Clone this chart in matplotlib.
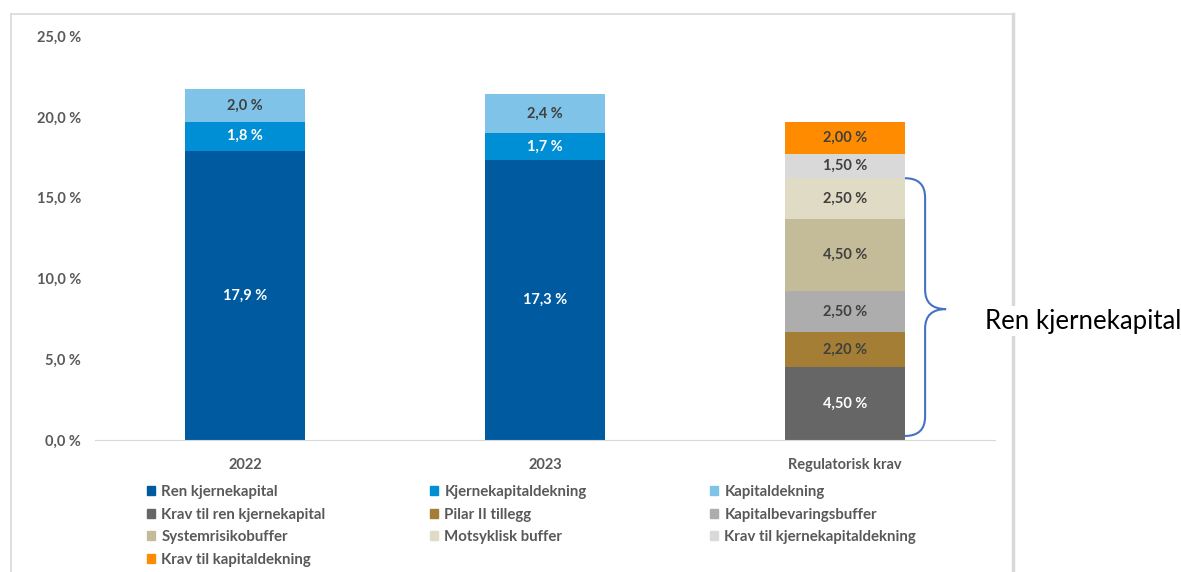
import matplotlib
matplotlib.use("Agg")
import matplotlib.pyplot as plt
from matplotlib.path import Path
from matplotlib.patches import PathPatch, Patch
from matplotlib.lines import Line2D
import numpy as np

# ---- data ----
categories = ["2022", "2023", "Regulatorisk krav"]

series_names = ["Ren kjernekapital", "Kjernekapitaldekning", "Kapitaldekning",
                "Krav til ren kjernekapital", "Pilar II tillegg", "Kapitalbevaringsbuffer",
                "Systemrisikobuffer", "Motsyklisk buffer", "Krav til kjernekapitaldekning",
                "Krav til kapitaldekning"]
series_colors = ["#005AA0", "#008FD5", "#7FC4E8",
                 "#666666", "#A57E35", "#ADADAD",
                 "#C4BC98", "#DFDBC5", "#D9D9D9",
                 "#FF8C00"]
label_colors = ["white", "white", "#404040",
                "white", "#404040", "#404040",
                "#404040", "#404040", "#404040",
                "#404040"]

# values per series, one per category (0 = not present)
ren_kjerne = [17.9, 17.3, 0]
kjerne_dekning = [1.8, 1.7, 0]
kap_dekning = [2.0, 2.4, 0]
krav_ren = [0, 0, 4.5]
pilar2 = [0, 0, 2.2]
bevaring = [0, 0, 2.5]
systemrisiko = [0, 0, 4.5]
motsyklisk = [0, 0, 2.5]
krav_kjerne = [0, 0, 1.5]
krav_kap = [0, 0, 2.0]
all_series = [ren_kjerne, kjerne_dekning, kap_dekning, krav_ren, pilar2,
              bevaring, systemrisiko, motsyklisk, krav_kjerne, krav_kap]
yticks = [0, 5, 10, 15, 20, 25]

W, H = 1181, 572
fig = plt.figure(figsize=(W / 100, H / 100), dpi=100)
ax = fig.add_axes([95 / W, (H - 440) / H, 900 / W, 404 / H])

font = "Lato"
grey = "#595959"
x = np.arange(len(categories))
bottom = np.zeros(len(categories))
for name, vals, col, lc in zip(series_names, all_series, series_colors, label_colors):
    vals = np.array(vals, dtype=float)
    ax.bar(x, vals, 0.4, bottom=bottom, color=col, label=name)
    for i, v in enumerate(vals):
        if v > 0:
            txt = ("%.2f %%" if i == 2 else "%.1f %%") % v
            ax.text(x[i], bottom[i] + v / 2, txt.replace(".", ","), ha="center", va="center",
                    color=lc, fontsize=10.5, fontweight="bold", family=font)
    bottom += vals

ax.set_xlim(-0.5, 2.5)
ax.set_ylim(0, 25)
ax.set_yticks(yticks)
ax.set_yticklabels([("%.1f %%" % t).replace(".", ",") for t in yticks])
ax.set_xticks(x)
ax.set_xticklabels(categories)
ax.tick_params(length=0, labelsize=10.5, labelcolor=grey)
ax.tick_params(axis="y", pad=10)
ax.tick_params(axis="x", pad=13)
for lab in ax.get_xticklabels() + ax.get_yticklabels():
    lab.set_fontweight("bold")
    lab.set_family(font)
for s in ["top", "right", "left"]:
    ax.spines[s].set_visible(False)
ax.spines["bottom"].set_color("#D9D9D9")

# brace over the "ren kjernekapital" part of the requirement bar
top = sum(v[2] for v in all_series[3:8])
x0, x1, x2 = 2.2, 2.267, 2.337
mid = top / 2
r = 1.2
verts = [(x0, top), (x1, top), (x1, top - r),
         (x1, mid + r), (x1, mid), (x2, mid),
         (x1, mid), (x1, mid - r),
         (x1, 0.25 + r), (x1, 0.25), (x0, 0.25)]
codes = [Path.MOVETO, Path.CURVE3, Path.CURVE3,
         Path.LINETO, Path.CURVE3, Path.CURVE3,
         Path.CURVE3, Path.CURVE3,
         Path.LINETO, Path.CURVE3, Path.CURVE3]
ax.add_patch(PathPatch(Path(verts, codes), fill=False, edgecolor="#4472C4", lw=1.5, clip_on=False))

# outer frame
fig.add_artist(Line2D([11 / W, 1013 / W], [1 - 14 / H, 1 - 14 / H], color="#D9D9D9", lw=1.2))
fig.add_artist(Line2D([11 / W, 11 / W], [0, 1 - 14 / H], color="#D9D9D9", lw=1.2))
fig.add_artist(Line2D([1013 / W, 1013 / W], [0, 1 - 14 / H], color="#D9D9D9", lw=2.5))

fig.text(985 / W, 1 - 321 / H, "Ren kjernekapital", fontsize=18.5, family=font, color="black",
         ha="left", va="center", bbox=dict(facecolor="white", edgecolor="none", pad=2))

# legend, three columns, filled row by row
col_x = [147, 430, 710]
for c in range(3):
    idx = list(range(c, len(series_names), 3))
    handles = [Patch(color=series_colors[i]) for i in idx]
    leg = fig.legend(handles, [series_names[i] for i in idx], loc="upper left",
                     bbox_to_anchor=(col_x[c] / W, 1 - 485 / H), frameon=False,
                     borderpad=0, borderaxespad=0, handlelength=0.55, handleheight=0.55,
                     handletextpad=0.4, labelspacing=0.57,
                     prop={"family": font, "weight": "bold", "size": 10.8})
    for t in leg.get_texts():
        t.set_color(grey)

fig.savefig("out.png", dpi=100)
